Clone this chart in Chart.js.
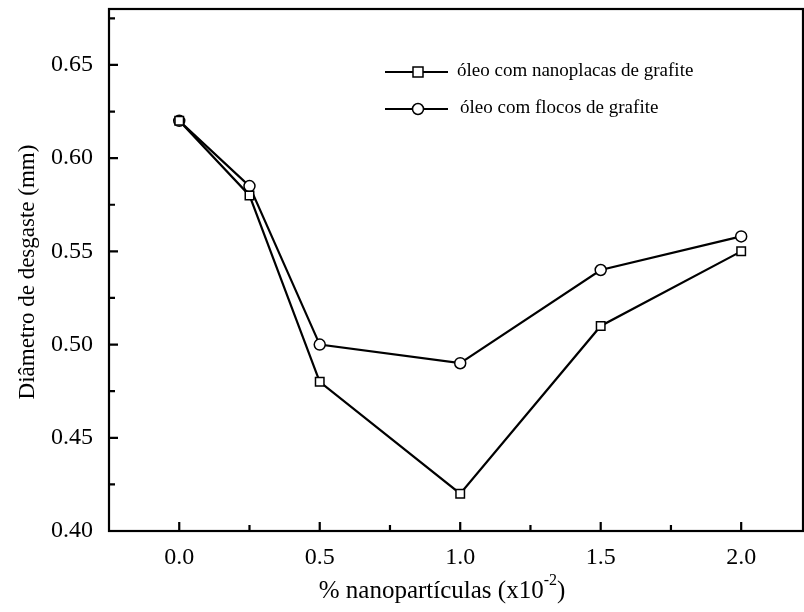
<!DOCTYPE html>
<html lang="pt">
<head>
<meta charset="UTF-8" />
<title>Diâmetro de desgaste</title>
<script src="https://cdn.jsdelivr.net/npm/chart.js"></script>
<style>
  html, body { margin: 0; padding: 0; background: #fff; }
  #wrap { width: 804px; height: 612px; }
</style>
</head>
<body>
<div id="wrap"><canvas id="wearChart" width="804" height="612"></canvas></div>
<script>
// concentration of nanoparticles (x10^-2 %)
const concentration = [0, 0.25, 0.5, 1.0, 1.5, 2.0];
const nanoplacas = [0.62, 0.58, 0.48, 0.42, 0.51, 0.55];
const flocos = [0.62, 0.585, 0.50, 0.49, 0.54, 0.558];
const seriesNames = ['óleo com nanoplacas de grafite', 'óleo com flocos de grafite'];
const xLabelTicks = [0, 0.5, 1.0, 1.5, 2.0];
const yLabelTicks = [0.40, 0.45, 0.50, 0.55, 0.60, 0.65];

const serif = '"Liberation Serif", "Times New Roman", serif';

function toPoints(ys) {
  return concentration.map((x, i) => ({ x: x, y: ys[i] }));
}

// frame, inward ticks, axis titles and the legend box
const decorations = {
  id: 'decorations',
  afterDraw(chart) {
    const ctx = chart.ctx;
    const a = chart.chartArea;
    const xs = chart.scales.x, ys = chart.scales.y;
    ctx.save();
    ctx.strokeStyle = '#000';
    ctx.lineWidth = 2.2;
    ctx.strokeRect(a.left, a.top, a.right - a.left, a.bottom - a.top);

    ctx.beginPath();
    for (let v = 0; v <= 2.0001; v += 0.25) {
      const px = xs.getPixelForValue(v);
      const major = Math.abs(v / 0.5 - Math.round(v / 0.5)) < 1e-6;
      ctx.moveTo(px, a.bottom);
      ctx.lineTo(px, a.bottom - (major ? 9 : 6));
    }
    for (let v = 0.40; v <= 0.6801; v += 0.025) {
      const py = ys.getPixelForValue(v);
      const major = Math.abs(v / 0.05 - Math.round(v / 0.05)) < 1e-6;
      ctx.moveTo(a.left, py);
      ctx.lineTo(a.left + (major ? 9 : 6), py);
    }
    ctx.stroke();

    // axis titles
    ctx.fillStyle = '#000';
    ctx.textBaseline = 'alphabetic';
    const main = '% nanopartículas (x10';
    const sup = '-2';
    const end = ')';
    ctx.font = '25px ' + serif;
    const w1 = ctx.measureText(main).width;
    const w3 = ctx.measureText(end).width;
    ctx.font = '16px ' + serif;
    const w2 = ctx.measureText(sup).width;
    const tx = 442 - (w1 + w2 + w3) / 2;
    const ty = 598;
    ctx.textAlign = 'left';
    ctx.font = '25px ' + serif;
    ctx.fillText(main, tx, ty);
    ctx.font = '16px ' + serif;
    ctx.fillText(sup, tx + w1, ty - 13);
    ctx.font = '25px ' + serif;
    ctx.fillText(end, tx + w1 + w2, ty);

    ctx.save();
    ctx.translate(34, 272);
    ctx.rotate(-Math.PI / 2);
    ctx.textAlign = 'center';
    ctx.font = '23px ' + serif;
    ctx.fillText('Diâmetro de desgaste (mm)', 0, 0);
    ctx.restore();

    // legend
    const rows = [72, 109];
    chart.data.datasets.forEach((ds, i) => {
      const y = rows[i];
      ctx.strokeStyle = '#000';
      ctx.lineWidth = 2.2;
      ctx.beginPath();
      ctx.moveTo(385, y);
      ctx.lineTo(448, y);
      ctx.stroke();
      ctx.fillStyle = '#fff';
      ctx.lineWidth = 1.5;
      ctx.beginPath();
      if (ds.pointStyle === 'rect') {
        ctx.rect(413, y - 5, 10, 10);
      } else {
        ctx.arc(418, y, 5.5, 0, Math.PI * 2);
      }
      ctx.fill();
      ctx.stroke();
      ctx.fillStyle = '#000';
      ctx.font = '19px ' + serif;
      ctx.textAlign = 'left';
      ctx.textBaseline = 'middle';
      ctx.fillText(ds.label, i === 0 ? 457 : 460, y - 1);
    });
    ctx.restore();
  }
};

new Chart(document.getElementById('wearChart'), {
  type: 'line',
  data: {
    datasets: [
      {
        label: seriesNames[0],
        data: toPoints(nanoplacas),
        borderColor: '#000',
        borderWidth: 2.2,
        pointStyle: 'rect',
        pointRadius: 6,
        pointBackgroundColor: '#fff',
        pointBorderColor: '#000',
        pointBorderWidth: 1.5,
        tension: 0
      },
      {
        label: seriesNames[1],
        data: toPoints(flocos),
        borderColor: '#000',
        borderWidth: 2.2,
        pointStyle: 'circle',
        pointRadius: 5.5,
        pointBackgroundColor: '#fff',
        pointBorderColor: '#000',
        pointBorderWidth: 1.5,
        tension: 0
      }
    ]
  },
  options: {
    responsive: false,
    animation: false,
    layout: { autoPadding: false, padding: { left: 0, right: 1, top: 9, bottom: 0 } },
    plugins: {
      legend: { display: false },
      tooltip: { enabled: false }
    },
    scales: {
      x: {
        type: 'linear',
        min: -0.25,
        max: 2.22,
        afterFit(scale) {
          scale.height = 81;
          scale.paddingLeft = 0;
          scale.paddingRight = 0;
        },
        afterBuildTicks(scale) {
          scale.ticks = xLabelTicks.map(v => ({ value: v }));
        },
        grid: { display: false, drawTicks: false },
        border: { display: false },
        ticks: {
          padding: 12,
          color: '#000',
          font: { family: serif, size: 24 },
          callback: v => v.toFixed(1)
        }
      },
      y: {
        min: 0.40,
        max: 0.68,
        afterFit(scale) {
          scale.width = 109;
          scale.paddingTop = 0;
          scale.paddingBottom = 0;
        },
        afterBuildTicks(scale) {
          scale.ticks = yLabelTicks.map(v => ({ value: v }));
        },
        grid: { display: false, drawTicks: false },
        border: { display: false },
        ticks: {
          padding: 16,
          color: '#000',
          font: { family: serif, size: 24 },
          callback: v => v.toFixed(2)
        }
      }
    }
  },
  plugins: [decorations]
});
</script>
</body>
</html>
